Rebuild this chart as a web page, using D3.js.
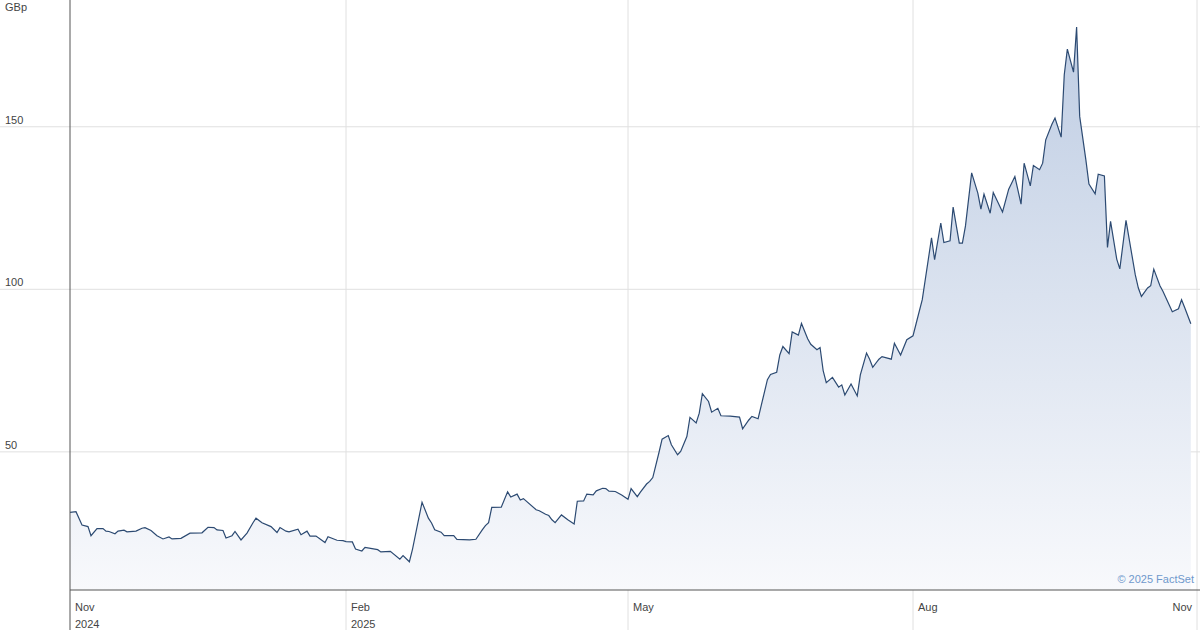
<!DOCTYPE html>
<html>
<head>
<meta charset="utf-8">
<script src="https://cdn.jsdelivr.net/npm/d3@7"></script>
<style>
  body { margin: 0; background: #fff; }
  text { font-family: "Liberation Sans", Arial, sans-serif; }
</style>
</head>
<body>
<svg id="chart" width="1200" height="630"></svg>
<script>
// days since 1 Nov 2024
const dayOffsets = [0,2,4,6,7,9,11,12,13,15,16,18,19,22,24,25,27,29,31,33,34,37,40,44,46,48,49,51,52,54,55,57,59,61,62,64,67,69,70,72,73,76,77,79,80,82,85,86,89,91,
  92,94,95,97,98,102,103,106,109,110,112,113,116,118,119,120,122,123,126,127,131,133,135,136,137,138,141,143,144,146,147,148,152,153,155,156,157,158,160,162,164,165,167,168,170,171,173,174,175,177,179,181,
  182,184,185,187,188,189,191,192,194,195,197,198,200,201,203,204,205,207,208,210,211,214,217,218,220,221,223,224,226,227,229,230,231,233,234,236,237,239,240,242,243,244,245,247,249,250,251,253,255,256,258,259,260,262,263,266,267,269,271,273,
  274,276,279,280,282,283,285,286,288,289,290,292,294,295,296,298,299,302,304,306,308,309,311,312,314,315,316,318,319,321,322,323,325,326,327,329,330,332,333,335,336,337,339,340,342,345,346,347,349,350,351,353,354,356,357,359,360,361,363];
const prices = [31.4,31.6,27.5,27.0,24.2,26.4,26.4,25.6,25.5,24.8,25.6,25.9,25.4,25.6,26.5,26.7,25.8,24.2,23.2,23.8,23.2,23.4,25.0,25.1,26.8,26.7,26.0,25.8,23.5,24.2,25.5,22.9,25.0,28.2,29.6,28.2,27.0,25.2,26.7,25.6,25.4,26.2,24.5,25.6,24.1,24.1,22.1,23.9,22.8,22.7,
  22.4,22.3,20.1,19.5,20.6,19.9,19.2,19.4,17.0,18.1,16.2,20.1,34.5,29.6,28.1,26.0,25.3,24.2,24.2,23.1,22.9,23.1,26.0,27.3,28.2,32.9,33.0,37.7,36.1,37.0,35.2,35.6,32.2,31.9,30.8,30.4,29.1,28.2,30.6,29.1,27.8,34.8,34.9,37.0,36.8,38.0,38.8,38.7,37.9,37.8,36.7,35.4,
  38.7,36.2,37.6,40.1,40.9,42.1,49.8,53.9,55.0,52.2,49.1,50.1,54.7,60.6,58.9,61.9,67.9,65.5,62.2,63.4,61.1,61.0,60.7,57.1,59.8,60.9,60.2,64.2,72.2,73.8,74.5,79.8,82.4,80.2,86.9,85.9,89.5,84.8,83.1,81.4,82.1,75.0,71.3,72.9,69.9,70.6,67.5,70.9,67.2,73.7,80.4,78.5,76.0,78.5,79.3,78.5,83.4,79.8,84.5,85.7,
  89.4,96.8,115.8,109.1,120.4,114.4,114.9,125.3,114.2,114.2,119.5,135.8,129.6,124.7,129.3,123.4,129.8,123.8,130.8,134.7,126.2,138.8,131.8,138.1,136.8,138.8,146.0,150.8,152.7,146.8,166.0,173.9,166.8,180.7,153.2,139.8,132.4,129.4,135.4,134.9,112.9,120.9,109.3,106.3,121.2,104.5,100.4,97.8,100.4,101.1,106.2,101.1,99.3,95.2,93.1,94.0,96.8,94.4,89.4];
const yTicks = [50, 100, 150];
const xTickDates = ["2024-11-01","2025-02-01","2025-05-01","2025-08-01","2025-11-01"];
const xTickMonths = ["Nov","Feb","May","Aug","Nov"];
const xTickYears = ["2024","2025","","",""];

const W = 1200, H = 630, left = 70, bottom = 590;
const svg = d3.select("#chart");
const start = new Date(2024, 10, 1);
const data = dayOffsets.map((d, i) => ({ date: d3.timeDay.offset(start, d), v: prices[i] }));
const tickDates = xTickDates.map(d3.timeParse("%Y-%m-%d"));

const x = d3.scaleTime().domain(tickDates).range([70, 346, 628, 913, 1197]);
const y = d3.scaleLinear().domain([7.5, 189]).range([bottom, 0]);

const grad = svg.append("defs").append("linearGradient")
  .attr("id", "fill").attr("gradientUnits", "userSpaceOnUse")
  .attr("x1", 0).attr("y1", 0).attr("x2", 0).attr("y2", bottom);
grad.append("stop").attr("offset", "0%").attr("stop-color", "#bccbe2");
grad.append("stop").attr("offset", "100%").attr("stop-color", "#f8f9fc");

// grid
svg.selectAll(".hg").data(yTicks).join("line")
  .attr("x1", 0).attr("x2", W).attr("y1", d => y(d)).attr("y2", d => y(d))
  .attr("stroke", "#e0e0e0");
svg.selectAll(".vg").data(tickDates.slice(1)).join("line")
  .attr("x1", d => x(d)).attr("x2", d => x(d)).attr("y1", 0).attr("y2", H)
  .attr("stroke", "#e0e0e0");

svg.append("path").datum(data)
  .attr("fill", "url(#fill)")
  .attr("d", d3.area().x(d => x(d.date)).y0(bottom).y1(d => y(d.v)));
svg.append("path").datum(data)
  .attr("fill", "none").attr("stroke", "#2c4a72").attr("stroke-width", 1.2)
  .attr("d", d3.line().x(d => x(d.date)).y(d => y(d.v)));

// axes lines
svg.append("line").attr("x1", left).attr("x2", left).attr("y1", 0).attr("y2", H).attr("stroke", "#555");
svg.append("line").attr("x1", left).attr("x2", W).attr("y1", bottom).attr("y2", bottom).attr("stroke", "#555");

svg.selectAll(".yl").data(yTicks).join("text")
  .attr("x", 5).attr("y", d => y(d) - 3)
  .attr("font-size", 11).attr("fill", "#444").text(d => d);
svg.append("text").attr("x", 5).attr("y", 11).attr("font-size", 11).attr("fill", "#444").text("GBp");

svg.selectAll(".xm").data(tickDates).join("text")
  .attr("x", (d, i) => i === tickDates.length - 1 ? x(d) - 5 : x(d) + 5)
  .attr("text-anchor", (d, i) => i === tickDates.length - 1 ? "end" : "start")
  .attr("y", 611).attr("font-size", 11).attr("fill", "#444")
  .text((d, i) => xTickMonths[i]);
svg.selectAll(".xy").data(tickDates).join("text")
  .attr("x", d => x(d) + 5).attr("y", 628).attr("font-size", 11).attr("fill", "#444")
  .text((d, i) => xTickYears[i]);

svg.append("text").attr("x", 1194).attr("y", 583).attr("text-anchor", "end")
  .attr("font-size", 11).attr("fill", "#6f98cc").text("© 2025 FactSet");
</script>
</body>
</html>
